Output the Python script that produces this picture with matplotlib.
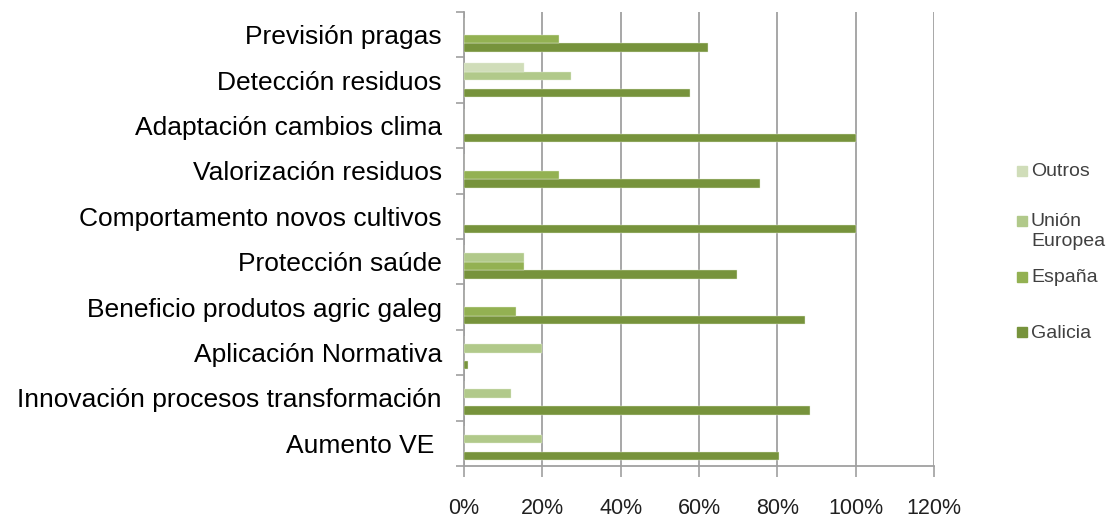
import matplotlib
matplotlib.use("Agg")
import matplotlib.pyplot as plt
from matplotlib.patches import Rectangle
import numpy as np

categories = ["Aumento VE ", "Innovación procesos transformación", "Aplicación Normativa",
              "Beneficio produtos agric galeg", "Protección saúde", "Comportamento novos cultivos",
              "Valorización residuos", "Adaptación cambios clima", "Detección residuos",
              "Previsión pragas"]
galicia = [80.5, 88.3, 1.1, 87.1, 69.8, 100, 75.7, 100, 57.7, 62.2]
espana = [0, 0, 0, 13.3, 15.2, 0, 24.3, 0, 0, 24.3]
ue = [20, 11.9, 20, 0, 15.2, 0, 0, 0, 27.3, 0]
outros = [0, 0, 0, 0, 0, 0, 0, 0, 15.2, 0]
xticks = [0, 20, 40, 60, 80, 100, 120]
xticklabels = ["0%", "20%", "40%", "60%", "80%", "100%", "120%"]

colors = ["#77933C", "#93B152", "#B1C98A", "#D0DDB9"]

fig = plt.figure(figsize=(11.13, 5.19), dpi=100)
ax = fig.add_axes([464/1113, 1-466/519, (934-464)/1113, (466-12)/519])

y = np.arange(len(categories))
h = 1/5.4
offsets = [-1.5*h, -0.5*h, 0.5*h, 1.5*h]
for vals, off, c in zip([galicia, espana, ue, outros], offsets, colors):
    ax.barh(y + off, vals, height=h, color=c, edgecolor="#e4edd6", linewidth=0.3, zorder=3)

ax.set_xlim(0, 120)
ax.set_ylim(-0.5, len(categories)-0.5)
ax.set_xticks(xticks)
ax.set_xticklabels(xticklabels, fontsize=15.5, family="Liberation Sans", color="#202020")
ax.tick_params(axis="x", length=8, width=1.2, color="#a0a0a0", pad=15)
ax.set_yticks(y)
ax.set_yticklabels(categories, fontsize=19, family="Liberation Sans", color="#000000")
ax.set_yticks(np.arange(-0.5, len(categories), 1), minor=True)
ax.tick_params(axis="y", which="major", length=0, pad=16)
ax.tick_params(axis="y", which="minor", length=6, width=1.2, color="#a0a0a0")
ax.grid(axis="x", color="#a0a0a0", linewidth=1.3, zorder=0)
for s in ["top", "right"]:
    ax.spines[s].set_visible(False)
for s in ["left", "bottom"]:
    ax.spines[s].set_color("#a0a0a0")
    ax.spines[s].set_linewidth(1.3)

# legend (manual)
leg_items = [(["Outros"], colors[3], 171), (["Unión", "Europea"], colors[2], 221),
             (["España"], colors[1], 277), (["Galicia"], colors[0], 332)]
for lines, c, yp in leg_items:
    fig.add_artist(Rectangle((1017/1113, 1-(yp+5)/519), 10/1113, 10/519,
                             transform=fig.transFigure, color=c))
    for k, line in enumerate(lines):
        fig.text(1031/1113, 1-(yp + 1 + 19*k)/519, line, fontsize=14, family="Liberation Sans",
                 color="#404040", va="center", ha="left")

fig.savefig("out.png", dpi=100)
